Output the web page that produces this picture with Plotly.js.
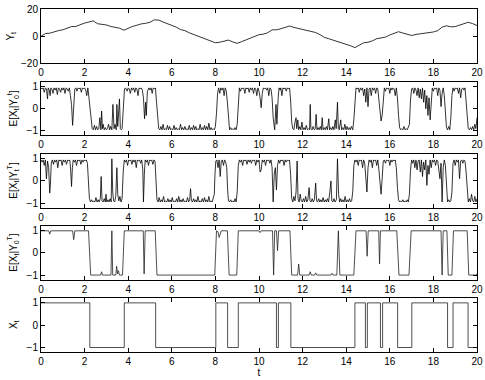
<!DOCTYPE html>
<html>
<head>
<meta charset="utf-8">
<script src="https://cdn.plot.ly/plotly-3.0.1.min.js"></script>
<style>html,body{margin:0;padding:0;background:#fff;}#chart{width:485px;height:380px;}</style>
</head>
<body>
<div id="chart"></div>
<script>
// ---- Panel 1: observation Y_t ----
var tY = [0,0.2,0.4,0.6,0.8,1.0,1.2,1.4,1.6,1.8,2.0,2.2,2.4,2.6,2.8,3.0,3.2,3.4,3.6,3.8,4.0,4.2,4.4,4.6,4.8,5.0,5.2,5.4,5.6,5.8,6.0,6.2,6.4,6.6,6.8,7.0,7.2,7.4,7.6,7.8,8.0,8.2,8.4,8.6,8.8,9.0,9.2,9.4,9.6,9.8,10.0,10.2,10.4,10.6,10.8,11.0,11.2,11.4,11.6,11.8,12.0,12.2,12.4,12.6,12.8,13.0,13.2,13.4,13.6,13.8,14.0,14.2,14.4,14.6,14.8,15.0,15.2,15.4,15.6,15.8,16.0,16.2,16.4,16.6,16.8,17.0,17.2,17.4,17.6,17.8,18.0,18.2,18.4,18.6,18.8,19.0,19.2,19.4,19.6,19.8,20.0];
var vY = [0,2.0,2.3,3.5,4.2,4.8,5.8,7.2,7.3,8.6,9.8,10.6,11.4,9.3,9.0,8.4,7.3,6.6,6.0,4.5,6.2,7.3,8.2,9.2,9.6,10.4,12.2,12.0,10.6,9.4,8.2,6.8,5.0,4.2,2.6,1.4,0.2,-1.0,-2.0,-3.2,-4.8,-4.4,-3.8,-2.8,-4.2,-5.2,-4.0,-2.6,-1.0,0.2,1.2,1.6,2.6,4.8,4.8,5.6,6.6,7.6,6.6,5.8,5.2,4.2,3.4,2.8,1.2,-0.8,-1.8,-2.8,-3.6,-4.8,-5.6,-7.0,-8.4,-6.6,-4.8,-4.4,-3.4,-1.8,-1.2,-0.6,1.0,2.4,3.4,2.4,1.4,0.6,1.4,1.8,2.4,2.8,3.2,4.2,6.8,7.8,7.0,7.2,8.4,9.2,10.4,9.4,8.0];

// ---- Panel 2: filter E[X_t | Y_0^t] ----
var tF = [0,0.05,0.1,0.15,0.2,0.25,0.3,0.33,0.38,0.42,0.45,0.5,0.55,0.6,0.65,0.7,0.75,0.8,0.85,0.9,0.95,1.0,1.05,1.1,1.15,1.2,1.25,1.3,1.35,1.4,1.45,1.5,1.55,1.6,1.65,1.7,1.75,1.8,1.85,1.9,1.95,2.0,2.05,2.1,2.15,2.2,2.25,2.3,2.35,2.4,2.45,2.5,2.55,2.6,2.65,2.7,2.75,2.78,2.82,2.85,2.9,2.95,3.0,3.05,3.1,3.15,3.2,3.25,3.3,3.35,3.4,3.45,3.48,3.52,3.56,3.6,3.64,3.68,3.72,3.78,3.83,3.88,3.95,4.0,4.05,4.1,4.15,4.2,4.25,4.3,4.35,4.4,4.45,4.5,4.55,4.6,4.65,4.7,4.75,4.8,4.83,4.88,4.95,5.0,5.05,5.1,5.15,5.2,5.25,5.3,5.35,5.4,5.45,5.5,5.55,5.6,5.65,5.7,5.75,5.8,5.85,5.9,5.95,6.0,6.05,6.1,6.15,6.2,6.25,6.3,6.35,6.4,6.45,6.5,6.55,6.6,6.65,6.7,6.75,6.8,6.85,6.9,6.95,7.0,7.05,7.1,7.15,7.2,7.25,7.3,7.35,7.4,7.45,7.5,7.55,7.6,7.65,7.7,7.75,7.8,7.85,7.9,7.95,8.0,8.05,8.1,8.15,8.2,8.25,8.3,8.35,8.4,8.45,8.5,8.55,8.6,8.65,8.7,8.75,8.8,8.85,8.9,8.95,9.0,9.05,9.1,9.15,9.2,9.25,9.3,9.35,9.4,9.45,9.5,9.55,9.6,9.65,9.7,9.75,9.8,9.85,9.9,9.95,10.0,10.05,10.1,10.15,10.2,10.25,10.3,10.35,10.4,10.45,10.5,10.55,10.6,10.65,10.72,10.78,10.82,10.88,10.92,10.97,11.0,11.05,11.1,11.15,11.2,11.25,11.3,11.35,11.4,11.45,11.5,11.55,11.6,11.65,11.7,11.73,11.78,11.82,11.87,11.92,11.97,12.02,12.07,12.12,12.17,12.22,12.27,12.32,12.35,12.38,12.43,12.48,12.53,12.58,12.62,12.66,12.71,12.76,12.81,12.86,12.9,12.94,12.99,13.04,13.09,13.14,13.2,13.24,13.29,13.34,13.39,13.44,13.5,13.54,13.6,13.64,13.68,13.75,13.79,13.84,13.89,13.94,13.99,14.04,14.09,14.14,14.19,14.24,14.3,14.35,14.4,14.45,14.5,14.55,14.6,14.65,14.7,14.75,14.8,14.85,14.9,14.95,15.0,15.05,15.1,15.15,15.2,15.25,15.3,15.35,15.4,15.45,15.5,15.55,15.6,15.65,15.7,15.75,15.8,15.85,15.9,15.95,16.0,16.05,16.1,16.15,16.2,16.25,16.3,16.35,16.4,16.45,16.5,16.55,16.6,16.65,16.7,16.75,16.8,16.85,16.9,16.95,17.0,17.05,17.1,17.15,17.2,17.25,17.3,17.35,17.4,17.45,17.5,17.55,17.6,17.65,17.7,17.75,17.8,17.85,17.9,17.95,18.0,18.05,18.1,18.15,18.2,18.25,18.3,18.35,18.4,18.45,18.5,18.55,18.6,18.65,18.7,18.75,18.8,18.85,18.9,18.95,19.0,19.05,19.1,19.15,19.2,19.25,19.3,19.35,19.4,19.45,19.5,19.55,19.6,19.65,19.7,19.75,19.8,19.85,19.9,19.95,20.0];
var vF = [0.95,0.9,0.95,0.75,0.95,0.9,0.45,0.95,0.85,0.6,0.95,0.9,0.7,0.95,0.85,0.95,0.65,0.95,0.9,0.75,0.95,0.85,0.95,0.7,0.95,0.9,0.8,0.95,0.6,0.2,-0.75,0.3,0.9,0.95,0.8,0.95,0.9,0.95,0.75,0.95,0.9,0.95,0.85,0.6,0.95,0.5,0.0,-0.6,-0.9,-0.95,-0.75,-0.95,-0.8,-0.95,-0.9,-0.4,-0.95,-0.1,-0.9,-0.7,-0.95,-0.85,-0.95,-0.9,-0.7,-0.95,-0.8,-0.95,0.2,-0.9,-0.7,-0.95,0.2,-0.8,-0.3,0.45,-0.9,-0.95,-0.9,0.3,0.9,0.95,0.8,0.95,0.9,0.7,0.95,0.85,0.95,0.75,0.95,0.9,0.6,0.95,0.9,0.95,0.85,0.5,-0.45,0.3,-0.3,0.8,0.95,0.85,0.95,0.7,0.95,0.9,0.95,0.3,-0.5,-0.9,-0.95,-0.8,-0.95,-0.7,-0.95,-0.9,-0.95,-0.75,-0.95,-0.8,-0.95,-0.9,-0.95,-0.75,-0.95,-0.85,-0.95,-0.9,-0.95,-0.7,-0.95,-0.85,-0.95,-0.8,-0.95,-0.9,-0.95,-0.75,-0.95,-0.85,-0.95,-0.75,-0.95,-0.8,-0.95,-0.9,-0.95,-0.7,-0.95,-0.85,-0.95,-0.75,-0.95,-0.8,-0.95,-0.65,-0.95,-0.85,-0.95,-0.9,-0.95,-0.8,-0.2,0.7,0.95,0.7,0.95,0.85,0.95,0.6,0.95,0.8,0.3,-0.6,-0.95,-0.85,-0.95,-0.9,-0.95,-0.85,-0.95,-0.7,0.5,0.95,0.8,0.95,0.9,0.95,0.7,0.95,0.9,0.95,0.75,0.95,0.85,0.95,0.7,0.95,0.9,0.6,0.95,0.8,0.5,0.05,0.7,0.95,0.9,0.95,0.85,0.95,0.6,0.95,0.9,0.5,-0.4,-0.95,0.2,-0.7,0.5,0.95,0.85,0.95,0.6,0.95,0.9,0.95,0.8,0.95,0.9,0.95,0.4,-0.6,-0.9,-0.95,-0.6,-0.4,-0.9,-0.5,-0.95,-0.8,-0.95,-0.6,-0.95,-0.85,-0.95,-0.75,-0.95,-0.9,-0.95,0.2,-0.9,-0.95,-0.8,-0.95,-0.9,-0.25,-0.95,-0.85,-0.95,-0.8,-0.95,-0.4,-0.95,-0.85,-0.95,-0.8,-0.95,-0.45,-0.95,-0.85,-0.95,-0.8,-0.95,-0.5,-0.9,0.3,-0.9,-0.95,-0.5,-0.95,-0.85,-0.95,-0.7,-0.95,-0.8,-0.95,-0.85,-0.95,-0.8,-0.95,-0.5,0.6,0.95,0.9,0.95,0.75,0.95,0.85,0.95,0.6,0.9,0.3,0.95,0.1,0.9,0.95,0.6,0.95,0.85,0.95,0.7,0.95,0.9,0.4,-0.2,-0.55,-0.3,0.6,0.95,0.8,0.95,0.9,0.95,0.7,0.95,0.85,0.95,0.9,0.6,0.95,0.5,-0.3,-0.85,-0.95,-0.9,-0.95,-0.8,-0.95,-0.9,-0.95,-0.85,-0.7,0.4,0.9,0.95,0.7,0.95,0.85,0.6,0.95,0.5,0.9,0.45,0.95,0.3,0.85,0.0,0.6,-0.3,0.5,-0.5,0.6,0.95,0.8,0.95,0.9,0.95,0.6,0.95,0.85,0.1,0.7,0.95,0.6,-0.3,-0.85,-0.95,-0.8,-0.95,-0.4,0.6,0.95,0.8,0.95,0.9,0.95,0.7,0.95,0.5,0.9,0.95,0.85,0.95,0.4,-0.5,-0.9,-0.95,-0.85,-0.95,-0.8,-0.95,-0.7,-0.9,-0.4];

// ---- Panel 3: backward estimate E[X_t | Y_t^T] ----
var tB = [0,0.05,0.1,0.15,0.2,0.25,0.3,0.35,0.4,0.43,0.47,0.52,0.57,0.62,0.67,0.72,0.77,0.82,0.87,0.92,0.97,1.02,1.07,1.12,1.17,1.22,1.27,1.32,1.36,1.4,1.44,1.48,1.53,1.58,1.63,1.68,1.73,1.78,1.83,1.88,1.93,1.98,2.03,2.08,2.13,2.17,2.22,2.27,2.32,2.37,2.42,2.47,2.52,2.57,2.62,2.67,2.72,2.76,2.8,2.85,2.9,2.95,2.98,3.02,3.07,3.12,3.17,3.22,3.25,3.29,3.33,3.38,3.43,3.48,3.52,3.57,3.62,3.67,3.72,3.77,3.82,3.87,3.92,3.97,4.02,4.07,4.12,4.17,4.22,4.27,4.32,4.37,4.42,4.47,4.52,4.57,4.62,4.67,4.7,4.74,4.78,4.83,4.88,4.93,4.98,5.03,5.08,5.13,5.18,5.23,5.27,5.32,5.37,5.42,5.47,5.52,5.57,5.62,5.67,5.72,5.77,5.82,5.87,5.92,5.97,6.02,6.07,6.12,6.17,6.22,6.27,6.32,6.37,6.42,6.47,6.52,6.57,6.62,6.67,6.72,6.77,6.82,6.86,6.9,6.95,7.0,7.05,7.1,7.15,7.2,7.25,7.3,7.35,7.4,7.45,7.5,7.55,7.6,7.65,7.7,7.75,7.8,7.85,7.9,7.95,7.98,8.02,8.07,8.12,8.17,8.22,8.27,8.32,8.37,8.42,8.47,8.52,8.56,8.6,8.65,8.7,8.75,8.8,8.85,8.9,8.95,9.0,9.05,9.1,9.15,9.2,9.25,9.3,9.35,9.4,9.45,9.5,9.55,9.6,9.65,9.7,9.75,9.8,9.85,9.9,9.95,10.0,10.05,10.1,10.15,10.2,10.25,10.3,10.35,10.4,10.45,10.5,10.55,10.6,10.65,10.7,10.75,10.8,10.85,10.9,10.95,11.0,11.05,11.1,11.15,11.2,11.25,11.3,11.35,11.4,11.45,11.5,11.55,11.6,11.65,11.7,11.75,11.79,11.84,11.89,11.94,11.99,12.04,12.09,12.14,12.19,12.24,12.3,12.34,12.39,12.44,12.49,12.54,12.6,12.64,12.69,12.74,12.79,12.84,12.89,12.94,12.99,13.04,13.09,13.14,13.19,13.25,13.3,13.34,13.39,13.44,13.49,13.55,13.6,13.65,13.7,13.75,13.8,13.85,13.9,13.95,14.0,14.05,14.1,14.15,14.2,14.25,14.3,14.35,14.4,14.45,14.5,14.55,14.6,14.65,14.7,14.75,14.8,14.85,14.9,14.95,15.0,15.05,15.1,15.15,15.2,15.25,15.3,15.35,15.4,15.45,15.5,15.55,15.6,15.65,15.7,15.75,15.8,15.85,15.9,15.95,16.0,16.05,16.1,16.15,16.2,16.25,16.3,16.35,16.4,16.45,16.5,16.55,16.6,16.65,16.7,16.75,16.8,16.85,16.9,16.95,17.0,17.05,17.1,17.15,17.2,17.25,17.3,17.35,17.4,17.45,17.5,17.55,17.6,17.65,17.7,17.75,17.8,17.85,17.9,17.95,18.0,18.05,18.1,18.15,18.2,18.25,18.3,18.35,18.4,18.45,18.5,18.55,18.6,18.65,18.7,18.75,18.8,18.85,18.9,18.95,19.0,19.05,19.1,19.15,19.2,19.25,19.3,19.35,19.4,19.45,19.5,19.55,19.6,19.65,19.7,19.75,19.8,19.85,19.9,19.95,20.0];
var vB = [0.95,0.85,0.95,0.7,0.95,0.1,0.9,0.6,-0.55,-0.2,0.8,0.95,0.75,0.95,0.85,0.95,0.6,0.95,0.9,0.95,0.7,0.95,0.85,0.95,0.75,0.95,0.9,0.95,0.5,-0.25,0.6,0.95,0.85,0.95,0.7,0.95,0.9,0.95,0.75,0.95,0.85,0.95,0.9,0.95,0.8,0.2,-0.8,-0.95,-0.85,-0.95,-0.9,-0.95,-0.75,-0.95,-0.85,-0.95,-0.8,0.2,-0.9,-0.95,-0.8,-0.95,-0.6,-0.95,-0.85,-0.95,-0.8,-0.95,1.0,-0.5,-0.9,-0.95,-0.7,0.6,-0.6,-0.9,-0.7,-0.95,-0.8,0.4,0.95,0.85,0.95,0.7,0.95,0.9,0.95,0.75,0.95,0.85,0.95,0.6,0.95,0.9,0.95,0.8,0.95,0.5,-0.95,0.3,0.95,0.85,0.95,0.7,0.95,0.9,0.95,0.75,0.95,0.9,0.2,-0.85,-0.95,-0.75,-0.95,-0.85,-0.95,-0.7,-0.95,-0.9,-0.95,-0.8,-0.95,-0.85,-0.95,-0.75,-0.95,-0.9,-0.95,-0.8,-0.95,-0.7,-0.95,-0.85,-0.95,-0.8,-0.95,-0.9,-0.95,-0.75,-0.95,-0.85,-0.35,-0.9,-0.95,-0.8,-0.95,-0.85,-0.95,-0.7,-0.95,-0.9,-0.95,-0.8,-0.95,-0.75,-0.95,-0.85,-0.95,-0.7,-0.95,-0.9,-0.95,-0.8,-0.6,0.3,0.9,0.95,0.6,0.95,0.2,0.9,0.95,0.7,0.95,0.85,0.6,-0.4,-0.9,-0.95,-0.85,-0.95,-0.9,-0.95,-0.8,-0.95,-0.5,0.7,0.95,0.85,0.95,0.7,0.95,0.9,0.95,0.75,0.95,0.85,0.95,0.8,0.95,0.9,0.95,0.7,0.95,0.85,0.95,0.4,0.5,0.95,0.85,0.95,0.7,0.95,0.9,0.95,0.8,0.95,0.6,-0.95,0.3,0.6,-0.4,0.7,0.95,0.8,0.95,0.9,0.95,0.7,0.95,0.85,0.95,0.9,0.95,0.3,-0.8,-0.95,-0.7,-0.9,-0.5,0.9,-0.8,-0.95,-0.6,-0.9,-0.95,-0.8,-0.95,-0.7,-0.95,-0.85,-0.3,-0.9,-0.95,-0.8,-0.95,-0.85,-0.1,-0.9,-0.95,-0.8,-0.95,-0.85,-0.95,-0.75,-0.95,-0.85,-0.95,-0.8,-0.95,-0.5,0.0,-0.9,-0.95,-0.8,-0.95,-0.85,1.0,-0.6,-0.95,-0.8,-0.95,-0.85,-0.95,-0.7,-0.95,-0.85,-0.95,-0.8,-0.95,-0.9,-0.5,0.7,0.95,0.85,0.95,0.7,0.95,0.9,0.95,0.6,0.95,0.8,0.3,-0.5,0.6,0.95,0.85,0.95,0.6,0.95,0.9,0.95,0.7,0.95,0.5,-0.3,-0.6,0.1,0.9,0.95,0.8,0.95,0.9,0.95,0.7,0.95,0.85,0.95,0.9,0.95,0.6,-0.3,-0.85,-0.95,-0.9,-0.95,-0.85,-0.95,-0.9,-0.95,-0.85,-0.95,-0.6,0.5,0.95,0.8,0.95,0.6,0.95,0.5,0.9,0.95,0.4,0.95,0.2,0.85,0.5,0.95,-0.2,0.7,0.3,0.95,0.6,0.95,0.85,0.95,0.7,0.95,0.9,0.5,0.1,0.8,-0.95,0.6,0.95,0.7,-0.5,-0.95,-0.85,-0.95,-0.9,-0.5,0.8,0.95,0.7,0.95,0.85,0.95,0.1,0.9,0.95,0.8,0.95,0.9,0.4,-0.6,-0.95,-0.8,-0.95,-0.6,-0.9,-0.95,-0.7,-0.95,-0.8];

// ---- Panel 4: smoother E[X_t | Y_0^T] ----
var tS = [0,0.35,0.4,0.45,1.45,1.5,1.55,2.18,2.28,2.74,2.78,2.82,3.21,3.25,3.29,3.43,3.47,3.51,3.55,3.6,3.74,3.82,4.69,4.73,4.78,5.24,5.32,7.97,8.05,8.12,8.17,8.22,8.27,8.55,8.63,8.98,9.05,10.0,10.05,10.1,10.62,10.67,10.72,10.8,10.85,10.9,11.42,11.5,11.77,11.82,11.87,12.3,12.35,12.4,12.55,12.6,12.65,13.3,13.35,13.4,13.57,13.64,13.71,14.35,14.45,14.91,14.96,15.01,15.49,15.53,15.57,16.32,16.42,16.88,16.98,18.35,18.4,18.45,18.62,18.68,18.85,18.92,19.55,19.62,19.93,20];
var vS = [1,1,0.85,1,1,0.6,1,1,-1,-1,-0.85,-1,-1,1,-1,-1,-0.6,-0.95,-0.8,-1,-1,1,1,-0.95,1,1,-1,-1,1,0.95,0.7,0.9,1,1,-1,-1,1,1,0.92,1,1,-1,1,1,0.1,1,1,-1,-1,-0.5,-1,-1,-0.85,-1,-1,-0.9,-1,-1,-0.92,-1,-1,1,-1,-1,1,1,-0.15,1,1,-0.5,1,1,-1,-1,1,1,-1,1,1,-1,-1,1,1,-1,-1,-0.95];

// ---- Panel 5: true state X_t (step changes) ----
var tX = [0,2.24,3.82,5.26,8.02,8.56,9.05,10.80,10.89,11.46,14.40,14.88,14.97,15.57,15.67,16.36,17.01,18.65,18.90,19.59,20];
var vX = [1,-1,1,-1,1,-1,1,-1,1,-1,1,-1,1,-1,1,-1,1,-1,1,-1,-1];

var yTitles = ['Y<sub>t</sub>', 'E[X<sub>t</sub>|Y<sub>0</sub><sup>t</sup>]', 'E[X<sub>t</sub>|Y<sub>t</sub><sup>T</sup>]', 'E[X<sub>t</sub>|Y<sub>0</sub><sup>T</sup>]', 'X<sub>t</sub>'];
var xTickVals = [0,2,4,6,8,10,12,14,16,18,20];

var H = 380;
var pix = [[9.3,63.3],[81.5,135.3],[153.5,207.5],[225.5,279.5],[297.5,352]];
var lineStyle = {color:'#000', width:0.8};

var traces = [
  {x:tY, y:vY, xaxis:'x', yaxis:'y', type:'scatter', mode:'lines', line:lineStyle},
  {x:tF, y:vF, xaxis:'x2', yaxis:'y2', type:'scatter', mode:'lines', line:lineStyle},
  {x:tB, y:vB, xaxis:'x3', yaxis:'y3', type:'scatter', mode:'lines', line:lineStyle},
  {x:tS, y:vS, xaxis:'x4', yaxis:'y4', type:'scatter', mode:'lines', line:{color:'#222', width:0.8}},
  {x:tX, y:vX, xaxis:'x5', yaxis:'y5', type:'scatter', mode:'lines', line:{color:'#222', width:0.8, shape:'hv'}}
];

var layout = {
  width:485, height:H,
  margin:{l:41, r:8, t:0, b:0},
  showlegend:false,
  paper_bgcolor:'#fff', plot_bgcolor:'#fff',
  font:{family:'Liberation Sans, Arial, sans-serif', size:10, color:'#000'}
};
var axBase = {
  showline:true, linecolor:'#000', linewidth:1, mirror:'ticks',
  ticks:'inside', ticklen:4, tickcolor:'#000', tickwidth:1,
  showgrid:false, zeroline:false, tickfont:{size:10, color:'#000'}
};
for (var i = 0; i < 5; i++) {
  var s = i === 0 ? '' : String(i + 1);
  var d = [1 - pix[i][1] / H, 1 - pix[i][0] / H];
  var xa = Object.assign({}, axBase, {
    domain:[0,1], range:[0,20], tickvals:xTickVals, anchor:'y' + s
  });
  if (i === 4) { xa.title = {text:'t', font:{size:10}, standoff:2}; }
  var ya = Object.assign({}, axBase, {
    domain:d, anchor:'x' + s,
    range: i === 0 ? [-20,20] : [-1.2,1.24],
    tickvals: i === 0 ? [-20,0,20] : [-1,0,1],
    title:{text:yTitles[i], font:{size:10}, standoff: i === 0 ? 4 : 7}
  });
  layout['xaxis' + s] = xa;
  layout['yaxis' + s] = ya;
}

Plotly.newPlot('chart', traces, layout, {staticPlot:true, displayModeBar:false});
</script>
</body>
</html>
